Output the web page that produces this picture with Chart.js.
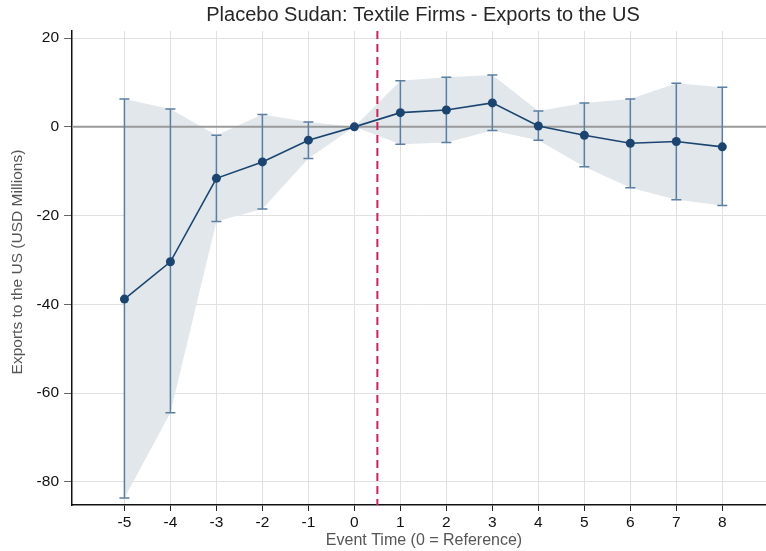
<!DOCTYPE html>
<html>
<head>
<meta charset="utf-8">
<script src="https://cdn.jsdelivr.net/npm/chart.js@4/dist/chart.umd.min.js"></script>
<style>
  html, body { margin: 0; padding: 0; background: #fff; overflow: hidden; }
  canvas { display: block; }
</style>
</head>
<body>
<canvas id="c" width="766" height="551"></canvas>
<script>
// Event-study estimates: exports to the US (USD millions) by event time
const eventTime = [-5, -4, -3, -2, -1, 0, 1, 2, 3, 4, 5, 6, 7, 8];
const estimate  = [-38.8, -30.4, -11.6, -7.9, -3.0, 0, 3.2, 3.8, 5.4, 0.2, -1.9, -3.7, -3.3, -4.5];
const ciUpper   = [6.3, 4.0, -1.9, 2.8, 1.1, 0, 10.4, 11.2, 11.7, 3.6, 5.4, 6.3, 9.8, 8.9];
const ciLower   = [-83.6, -64.4, -21.3, -18.5, -7.1, 0, -3.9, -3.5, -0.8, -3.0, -9.0, -13.7, -16.4, -17.7];
const xTicks    = [-5, -4, -3, -2, -1, 0, 1, 2, 3, 4, 5, 6, 7, 8];
const yTicks    = [-80, -60, -40, -20, 0, 20];
const treatmentLine = 0.5;
const chartTitle = 'Placebo Sudan: Textile Firms - Exports to the US';
const xTitle = 'Event Time (0 = Reference)';
const yTitle = 'Exports to the US (USD Millions)';

const FONT = '"Liberation Sans", Arial, Helvetica, sans-serif';
const pts = arr => eventTime.map((x, i) => ({ x: x, y: arr[i] }));

// Let the plotting area run to the right edge of the canvas
const fullWidth = {
  id: 'fullWidth',
  afterLayout(chart) {
    const a = chart.chartArea;
    const x = chart.scales.x;
    a.right = chart.width;
    a.width = a.right - a.left;
    x.right = chart.width;
    x.width = x.right - x.left;
    x.configure();
  }
};

// Zero line, confidence-interval whiskers and the treatment marker,
// painted over the shaded band but beneath the estimate line.
const overlays = {
  id: 'overlays',
  afterDatasetDraw(chart, args) {
    if (args.index !== 1) return;
    const { ctx, chartArea: a, scales: { x, y } } = chart;
    ctx.save();
    // reference line at zero
    const y0 = y.getPixelForValue(0);
    ctx.strokeStyle = '#9a9a9a';
    ctx.lineWidth = 2;
    ctx.beginPath();
    ctx.moveTo(a.left, y0);
    ctx.lineTo(a.right, y0);
    ctx.stroke();
    // whiskers with caps
    ctx.strokeStyle = '#5b7fa1';
    ctx.lineWidth = 1.5;
    eventTime.forEach((t, i) => {
      if (ciUpper[i] === ciLower[i]) return;
      const px = x.getPixelForValue(t);
      const pu = y.getPixelForValue(ciUpper[i]);
      const pl = y.getPixelForValue(ciLower[i]);
      ctx.beginPath();
      ctx.moveTo(px, pu); ctx.lineTo(px, pl);
      ctx.moveTo(px - 5, pu); ctx.lineTo(px + 5, pu);
      ctx.moveTo(px - 5, pl); ctx.lineTo(px + 5, pl);
      ctx.stroke();
    });
    // treatment timing
    const xv = x.getPixelForValue(treatmentLine);
    ctx.strokeStyle = '#cc2358';
    ctx.lineWidth = 2;
    ctx.setLineDash([8, 5]);
    ctx.beginPath();
    ctx.moveTo(xv, a.top);
    ctx.lineTo(xv, a.bottom);
    ctx.stroke();
    ctx.restore();
  }
};

// Chart title and axis titles
const titles = {
  id: 'titles',
  afterDraw(chart) {
    const { ctx } = chart;
    ctx.save();
    ctx.textAlign = 'center';
    ctx.textBaseline = 'middle';
    ctx.font = '20px ' + FONT;
    ctx.fillStyle = '#262626';
    ctx.fillText(chartTitle, 423, 15);
    ctx.font = '16px ' + FONT;
    ctx.fillStyle = '#555';
    ctx.fillText(xTitle, 424, 541);
    ctx.translate(18, 262);
    ctx.rotate(-Math.PI / 2);
    ctx.font = '15.5px ' + FONT;
    ctx.fillText(yTitle, 0, 0);
    ctx.restore();
  }
};

new Chart(document.getElementById('c'), {
  type: 'line',
  data: {
    datasets: [
      {
        label: 'Estimate',
        data: pts(estimate),
        borderColor: '#1b4570',
        backgroundColor: '#1b4570',
        borderWidth: 1.6,
        pointRadius: 4.5,
        pointHoverRadius: 4.5,
        pointBorderWidth: 0,
        tension: 0,
        fill: false
      },
      {
        label: 'CI upper',
        data: pts(ciUpper),
        borderWidth: 0,
        borderColor: 'rgba(0,0,0,0)',
        pointRadius: 0,
        backgroundColor: '#e2e7ec',
        fill: 2,
        tension: 0
      },
      {
        label: 'CI lower',
        data: pts(ciLower),
        borderWidth: 0,
        borderColor: 'rgba(0,0,0,0)',
        pointRadius: 0,
        fill: false,
        tension: 0
      }
    ]
  },
  options: {
    responsive: false,
    animation: false,
    layout: { padding: { top: 31, right: 0, bottom: 0, left: 0 } },
    plugins: {
      legend: { display: false },
      tooltip: { enabled: false },
      title: { display: false },
      filler: { propagate: false }
    },
    scales: {
      x: {
        type: 'linear',
        min: -6.14,
        max: 8.95,
        afterBuildTicks(scale) { scale.ticks = xTicks.map(v => ({ value: v })); },
        afterFit(scale) { scale.height = 46; },
        ticks: {
          color: '#111',
          font: { family: FONT, size: 15.5 },
          padding: 2,
          maxRotation: 0
        },
        grid: {
          color: '#e0e0e0',
          lineWidth: 1,
          tickColor: '#222',
          tickLength: 6,
          drawTicks: true
        },
        border: { display: true, color: '#111', width: 1.5 },
        title: { display: false }
      },
      y: {
        type: 'linear',
        min: -85.2,
        max: 21.6,
        afterBuildTicks(scale) { scale.ticks = yTicks.map(v => ({ value: v })); },
        afterFit(scale) { scale.width = 72; },
        ticks: {
          color: '#111',
          font: { family: FONT, size: 15.5 },
          padding: 5
        },
        grid: {
          color: '#e0e0e0',
          lineWidth: 1,
          tickColor: '#666',
          tickLength: 8,
          drawTicks: true
        },
        border: { display: true, color: '#111', width: 1.5 },
        title: { display: false }
      }
    }
  },
  plugins: [fullWidth, overlays, titles]
});
</script>
</body>
</html>
